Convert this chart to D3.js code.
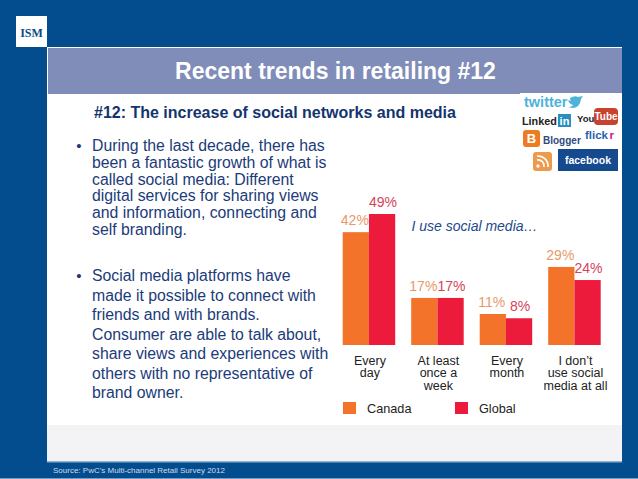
<!DOCTYPE html>
<html>
<head>
<meta charset="utf-8">
<title>Recent trends in retailing #12</title>
<script src="https://d3js.org/d3.v7.min.js"></script>
<style>
html, body { margin: 0; padding: 0; background: #034d8f; overflow: hidden; }
svg { display: block; }
text { font-family: "Liberation Sans", Arial, sans-serif; }
</style>
</head>
<body>
<script>
// chart data
var categories = ["Every day", "At least once a week", "Every month", "I don't use social media at all"];
var categoryLines = [["Every", "day"], ["At least", "once a", "week"], ["Every", "month"], ["I don\u2019t", "use social", "media at all"]];
var seriesNames = ["Canada", "Global"];
var seriesColors = ["#f4732a", "#ec1a3b"];
var labelColors = ["#e8996a", "#d4435a"];
// bar heights as drawn in the picture, the printed labels are rounded differently
var canadaBars = [42.2, 17.6, 11.6, 29.2];
var globalBars = [49, 17.6, 10, 24.3];
var canadaLabels = ["42%", "17%", "11%", "29%"];
var globalLabels = ["49%", "17%", "8%", "24%"];

// slide text
var bulletOne = ["During the last decade, there has", "been a fantastic growth of what is", "called social media: Different", "digital services for sharing views", "and information, connecting and", "self branding."];
var bulletTwo = ["Social media platforms have", "made it possible to connect with", "friends and with brands.", "Consumer are able to talk about,", "share views and experiences with", "others with no representative of", "brand owner."];

var svg = d3.select("body").append("svg").attr("width", 638).attr("height", 479);

// slide background
svg.append("rect").attr("width", 638).attr("height", 479).attr("fill", "#034d8f");
svg.append("rect").attr("x", 47).attr("y", 47).attr("width", 575).attr("height", 415).attr("fill", "#fff");
svg.append("rect").attr("x", 47).attr("y", 425).attr("width", 575).attr("height", 36).attr("fill", "#f3f3f5");
svg.append("rect").attr("x", 47).attr("y", 461).attr("width", 575).attr("height", 1.5).attr("fill", "#8fb0d4");
svg.append("rect").attr("x", 48).attr("y", 48).attr("width", 574).attr("height", 46).attr("fill", "#7f8db8");
svg.append("rect").attr("y", 478).attr("width", 638).attr("height", 1).attr("fill", "#6f9cc9");

// logo
svg.append("rect").attr("x", 16).attr("y", 16).attr("width", 31).attr("height", 31).attr("fill", "#fff");
svg.append("text").attr("x", 31.5).attr("y", 36.5).attr("text-anchor", "middle")
    .attr("font-size", 12).attr("font-weight", "bold")
    .style("font-family", "'Liberation Serif', serif").attr("fill", "#0b4a86").text("ISM");

// headings
svg.append("text").attr("x", 335.5).attr("y", 79).attr("text-anchor", "middle")
    .attr("font-size", 23).attr("font-weight", "bold").attr("fill", "#fff").text("Recent trends in retailing #12");
svg.append("text").attr("x", 94).attr("y", 118)
    .attr("font-size", 16).attr("font-weight", "bold").attr("fill", "#14346f").text("#12: The increase of social networks and media");

// bullets
function bullet(lines, top, step) {
    svg.append("text").attr("x", 79).attr("y", top).attr("text-anchor", "middle")
        .attr("font-size", 15).attr("fill", "#1b3b7a").text("\u2022");
    svg.append("g").selectAll("text").data(lines).join("text")
        .attr("x", 92)
        .attr("y", (d, i) => top + i * step)
        .attr("font-size", 15.8)
        .attr("fill", "#1b3b7a")
        .text(d => d);
}
bullet(bulletOne, 151, 16.8);
bullet(bulletTwo, 281, 19.5);

// chart
var x = d3.scaleBand().domain(categories).range([342.7, 600.7]).paddingInner(0.2336).paddingOuter(0);
var xSeries = d3.scaleBand().domain(seriesNames).range([0, x.bandwidth()]);
var y = d3.scaleLinear().domain([0, 49]).range([345, 214]);

var rows = categories.map((c, i) => ({
    category: c,
    lines: categoryLines[i],
    bars: [
        { name: "Canada", value: canadaBars[i], label: canadaLabels[i] },
        { name: "Global", value: globalBars[i], label: globalLabels[i] }
    ]
}));

var groups = svg.append("g").selectAll("g").data(rows).join("g")
    .attr("transform", d => `translate(${x(d.category)},0)`);

groups.selectAll("rect").data(d => d.bars).join("rect")
    .attr("x", d => xSeries(d.name))
    .attr("y", d => y(d.value))
    .attr("width", xSeries.bandwidth())
    .attr("height", d => y(0) - y(d.value))
    .attr("fill", (d, i) => seriesColors[i]);

groups.selectAll("text.value").data(d => d.bars).join("text")
    .attr("class", "value")
    .attr("x", (d, i) => xSeries(d.name) + xSeries.bandwidth() / 2 + (i ? 1 : -1))
    .attr("y", d => y(d.value) - 7)
    .attr("text-anchor", "middle")
    .attr("font-size", 14)
    .attr("fill", (d, i) => labelColors[i])
    .text(d => d.label);

groups.selectAll("text.cat").data(d => d.lines).join("text")
    .attr("class", "cat")
    .attr("x", x.bandwidth() / 2 + 1)
    .attr("y", (d, i) => 364.5 + i * 12.8)
    .attr("text-anchor", "middle")
    .attr("font-size", 12.5)
    .attr("fill", "#222")
    .text(d => d);

svg.append("text").attr("x", 411.5).attr("y", 231)
    .attr("font-size", 14).attr("font-style", "italic").attr("fill", "#1d4a8c").text("I use social media\u2026");

// legend
var legendX = d3.scalePoint().domain(seriesNames).range([343, 455]);
var legend = svg.append("g").selectAll("g").data(seriesNames).join("g")
    .attr("transform", d => `translate(${legendX(d)},402)`);
legend.append("rect").attr("width", 13).attr("height", 12).attr("fill", (d, i) => seriesColors[i]);
legend.append("text").attr("x", 24).attr("y", 10.5).attr("font-size", 12.7).attr("fill", "#222").text(d => d);

// social media logos
var social = svg.append("g");
social.append("rect").attr("x", 520).attr("y", 93).attr("width", 102).attr("height", 84).attr("fill", "#fff");
social.append("text").attr("x", 524).attr("y", 107).attr("font-size", 14.5).attr("font-weight", "bold").attr("fill", "#4fb3d9").text("twitter");
social.append("path").attr("d", "M570 98 q5 -3 8 -1 l5 -1 l-2 3 q-1 9 -9 9 l-4 -1 q4 0 5 -2 q-4 -1 -5 -5 q2 1 3 0 q-2 -1 -1 -2 z").attr("fill", "#4fb3d9");
social.append("text").attr("x", 522).attr("y", 125).attr("font-size", 10.8).attr("font-weight", "bold").attr("fill", "#222").text("Linked");
social.append("rect").attr("x", 558).attr("y", 114).attr("width", 13).attr("height", 13).attr("fill", "#2a8fc0");
social.append("text").attr("x", 564.5).attr("y", 125).attr("text-anchor", "middle").attr("font-size", 11).attr("font-weight", "bold").attr("fill", "#fff").text("in");
social.append("text").attr("x", 577).attr("y", 122).attr("font-size", 9.5).attr("font-weight", "bold").attr("fill", "#222").text("You");
social.append("rect").attr("x", 594).attr("y", 108).attr("width", 24).attr("height", 17).attr("rx", 4).attr("fill", "#c8432f");
social.append("text").attr("x", 606).attr("y", 120).attr("text-anchor", "middle").attr("font-size", 10).attr("font-weight", "bold").attr("fill", "#fff").text("Tube");
social.append("rect").attr("x", 523).attr("y", 130).attr("width", 17).attr("height", 17).attr("rx", 3).attr("fill", "#ee7b22");
social.append("text").attr("x", 531.5).attr("y", 143).attr("text-anchor", "middle").attr("font-size", 13).attr("font-weight", "bold").attr("fill", "#fff").text("B");
social.append("text").attr("x", 543).attr("y", 144).attr("font-size", 10).attr("font-weight", "bold").attr("fill", "#2c4a7c").text("Blogger");
social.append("text").attr("x", 585).attr("y", 139).attr("font-size", 11.5).attr("font-weight", "bold").attr("fill", "#2a5fb0").text("flick");
social.append("text").attr("x", 609.5).attr("y", 139).attr("font-size", 11.5).attr("font-weight", "bold").attr("fill", "#d6168c").text("r");
social.append("rect").attr("x", 533).attr("y", 152).attr("width", 19).attr("height", 19).attr("rx", 3).attr("fill", "#ee9a4d");
social.append("circle").attr("cx", 538).attr("cy", 166).attr("r", 1.7).attr("fill", "#fff");
social.append("path").attr("d", "M537 160 a6 6 0 0 1 7 7 M537 156 a10 10 0 0 1 11 11").attr("fill", "none").attr("stroke", "#fff").attr("stroke-width", 1.6);
social.append("rect").attr("x", 558).attr("y", 149).attr("width", 60).attr("height", 22).attr("fill", "#164a8f");
social.append("text").attr("x", 588).attr("y", 164).attr("text-anchor", "middle").attr("font-size", 10.5).attr("font-weight", "bold").attr("fill", "#fff").text("facebook");

// source
svg.append("text").attr("x", 53).attr("y", 473).attr("font-size", 8).attr("fill", "#cfdcec").text("Source: PwC\u2019s Multi-channel Retail Survey 2012");
</script>
</body>
</html>
